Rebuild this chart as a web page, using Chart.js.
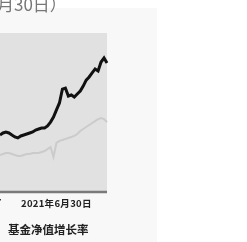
<!DOCTYPE html>
<html><head><meta charset="utf-8">
<script src="https://cdn.jsdelivr.net/npm/chart.js@4/dist/chart.umd.min.js"></script>
<style>
html,body{margin:0;padding:0;background:#fff;width:247px;height:242px;overflow:hidden;font-family:"Noto Sans CJK SC","DejaVu Sans",sans-serif;}
#panel{position:absolute;left:0;top:8px;width:157px;height:234px;background:#f8f8f8;}
#c{position:absolute;left:0;top:8px;}
.t{position:absolute;white-space:nowrap;}
</style></head>
<body>
<div id="panel"></div>
<canvas id="c" width="157" height="234"></canvas>
<div class="t" id="title" style="left:-3px;top:-9px;font-size:17px;color:#777;"></div>
<div class="t" id="tick0" style="left:-4px;top:196px;font-size:9px;font-weight:bold;color:#222;"></div>
<div class="t" id="tick1" style="left:21px;top:196px;font-size:9.5px;font-weight:bold;color:#222;letter-spacing:0.3px;"></div>
<div class="t" id="legend" style="left:8px;top:221px;font-size:11.5px;font-weight:bold;color:#222;"></div>
<script>
// Text
const titleText = "月30日）";
const tickLabels = ["7", "2021年6月30日"];
const legendText = "基金净值增长率";

// Categories (trading periods, visible part of the chart)
const categories = Array.from({length: 37}, (_, i) => "P" + (i + 1));

// Series values (%)
const fundValues = [18.7,19.7,20.2,19.7,18.7,17.7,17.2,18.2,18.7,19.2,19.7,20.2,21.2,21.7,22.2,22.2,23.2,25.2,27.7,31.3,34.8,41.8,42.3,38.3,38.8,37.8,39.3,40.8,43.3,46.3,47.9,49.9,51.9,50.9,55.4,57.4,54.9];
const benchValues = [8.6,9.1,9.6,9.6,9.1,8.6,8.1,8.1,8.6,9.1,9.1,9.6,9.6,9.6,10.1,10.6,11.6,12.6,7.6,14.7,15.7,16.2,16.7,17.2,17.7,18.2,19.2,20.7,21.7,22.7,23.7,24.7,25.7,26.7,27.2,26.7,25.2];

document.getElementById('title').textContent = titleText;
document.getElementById('tick0').textContent = tickLabels[0];
document.getElementById('tick1').textContent = tickLabels[1];
document.getElementById('legend').textContent = legendText;

const bgPlugin = {
  id: 'bg',
  beforeDraw(chart) {
    const {ctx, chartArea: a} = chart;
    ctx.save();
    ctx.fillStyle = '#e1e1e1';
    ctx.fillRect(a.left, a.top, a.right - a.left, a.bottom - a.top);
    ctx.restore();
  },
  afterDraw(chart) {
    const {ctx, chartArea: a} = chart;
    ctx.save();
    ctx.strokeStyle = '#7a7a7a';
    ctx.lineWidth = 2.5;
    ctx.beginPath();
    ctx.moveTo(a.left, a.bottom);
    ctx.lineTo(a.right, a.bottom);
    ctx.stroke();
    ctx.restore();
  }
};

new Chart(document.getElementById('c'), {
  type: 'line',
  data: {
    labels: categories,
    datasets: [
      {data: benchValues, borderColor: '#cbcbcb', borderWidth: 2, pointRadius: 0, tension: 0},
      {data: fundValues, borderColor: '#111', borderWidth: 3, pointRadius: 0, tension: 0}
    ]
  },
  options: {
    responsive: false,
    devicePixelRatio: 1,
    animation: false,
    layout: {padding: {left: 0, right: 50, top: 25, bottom: 50}},
    plugins: {legend: {display: false}, tooltip: {enabled: false}},
    scales: {
      x: {display: false, offset: false},
      y: {display: false, min: -10, max: 70}
    }
  },
  plugins: [bgPlugin]
});
</script>
</body></html>
